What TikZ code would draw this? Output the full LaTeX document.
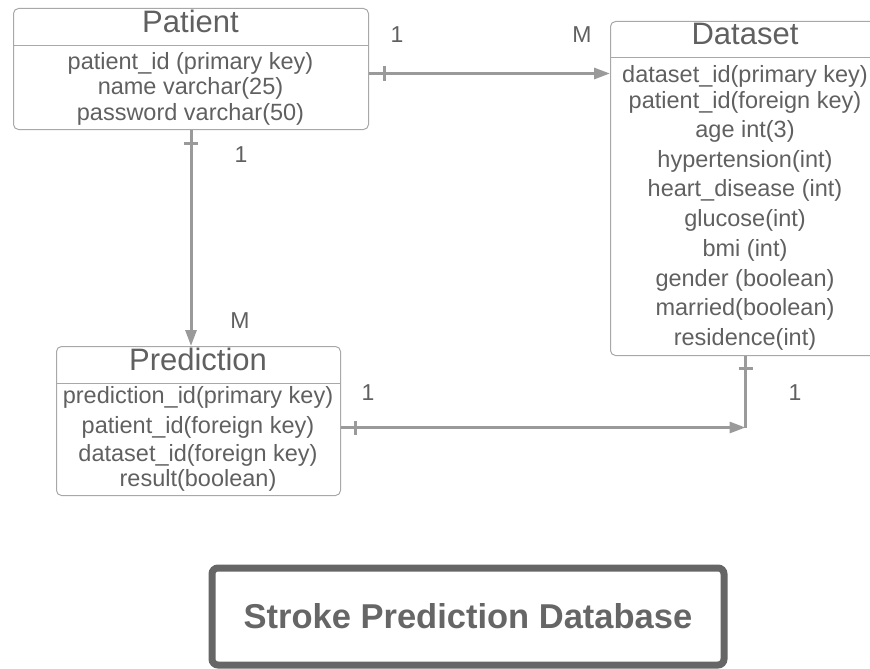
\documentclass[tikz,border=0pt]{standalone}
\usepackage{fontspec}
\setmainfont{Liberation Sans}
\usetikzlibrary{
        arrows.meta,
        decorations.markings,
        positioning
    }
\definecolor{txtgray}{HTML}{606060}
\definecolor{lngray}{HTML}{9A9A9A}
\definecolor{boxgray}{HTML}{A8A8A8}
\definecolor{framegray}{HTML}{666666}
\tikzset{>={Triangle[length=16pt,width=11pt]}}
\tikzset{
    entity/.style={draw=boxgray,line width=1pt,rounded corners=5pt,anchor=north west,inner sep=0pt},
    etitle/.style={anchor=base,text=txtgray,font=\fontsize{31}{31}\selectfont},
    field/.style={anchor=base,text=txtgray,font=\fontsize{23.5}{23.5}\selectfont},
    card/.style={anchor=base,text=txtgray,font=\fontsize{23}{23}\selectfont},
    rel/.style={draw=lngray,line width=3pt},
    one/.style={postaction={decorate,decoration={markings,
        mark=at position #1 with {\draw[-,lngray,line width=3pt] (0,-7pt) -- (0,7pt);}}}},
    banner/.style={draw=framegray,line width=7pt,rounded corners=6pt,minimum width=512pt,minimum height=97pt,
        text=framegray,font=\fontsize{34.5}{34.5}\selectfont\bfseries}
}

\begin{document}
\begin{tikzpicture}[x=1pt,y=-1pt]
    \useasboundingbox (0,0) rectangle (870,669);
    \clip (0,0) rectangle (870,669);

    % Patient
    \node[entity,minimum width=355pt,minimum height=121pt] (patient) at (13,8) {};
    \draw[boxgray,line width=1pt] (patient.west |- 0,46) -- (patient.east |- 0,46);
    \node[etitle] (patientT) at (190.5,33) {Patient};
    \node[field] (patient1) at (190.5,70)  {patient\_id (primary key)};
    \node[field] (patient2) at (190.5,94)  {name varchar(25)};
    \node[field] (patient3) at (190.5,120) {password varchar(50)};

    % Dataset
    \node[entity,minimum width=270pt,minimum height=334pt] (dataset) at (610,21) {};
    \draw[boxgray,line width=1pt] (dataset.west |- 0,58) -- (dataset.east |- 0,58);
    \node[etitle] (datasetT) at (745,45) {Dataset};
    \node[field] (dataset1)  at (745,82)  {dataset\_id(primary key)};
    \node[field] (dataset2)  at (745,108) {patient\_id(foreign key)};
    \node[field] (dataset3)  at (745,137) {age int(3)};
    \node[field] (dataset4)  at (745,167) {hypertension(int)};
    \node[field] (dataset5)  at (745,196) {heart\_disease (int)};
    \node[field] (dataset6)  at (745,226) {glucose(int)};
    \node[field] (dataset7)  at (745,256) {bmi (int)};
    \node[field] (dataset8)  at (745,286) {gender (boolean)};
    \node[field] (dataset9)  at (745,315) {married(boolean)};
    \node[field] (dataset10) at (745,345) {residence(int)};

    % Prediction
    \node[entity,minimum width=284pt,minimum height=149pt] (prediction) at (56,346) {};
    \draw[boxgray,line width=1pt] (prediction.west |- 0,383) -- (prediction.east |- 0,383);
    \node[etitle] (predictionT) at (198,370) {Prediction};
    \node[field] (prediction1) at (198,403) {prediction\_id(primary key)};
    \node[field] (prediction2) at (198,433) {patient\_id(foreign key)};
    \node[field] (prediction3) at (198,461) {dataset\_id(foreign key)};
    \node[field] (prediction4) at (198,486) {result(boolean)};

    % relations
    \coordinate (pd) at ([yshift=-4.5pt]patient.east);
    \coordinate (corner) at ([yshift=-6.5pt]prediction.east -| dataset.south);
    \draw[rel,->,one=15pt] (pd) -- (pd -| dataset.west);
    \draw[rel,->,one=13pt] (patient.south) -- (patient.south |- prediction.north);
    \draw[rel,one=12pt] (dataset.south) -- (corner);
    \draw[rel,->,one=14pt] ([yshift=-6.5pt]prediction.east) -- (corner);

    \node[card] (pd1) at (397,43)  {1};
    \node[card] (pdM) at (582,43)  {M};
    \node[card] (pp1) at (241,162) {1};
    \node[card] (ppM) at (240,328) {M};
    \node[card] (dp1) at (368,400) {1};
    \node[card] (dp2) at (795,400) {1};

    \node[banner] (title) at (468,616.5) {Stroke Prediction Database};
\end{tikzpicture}
\end{document}
